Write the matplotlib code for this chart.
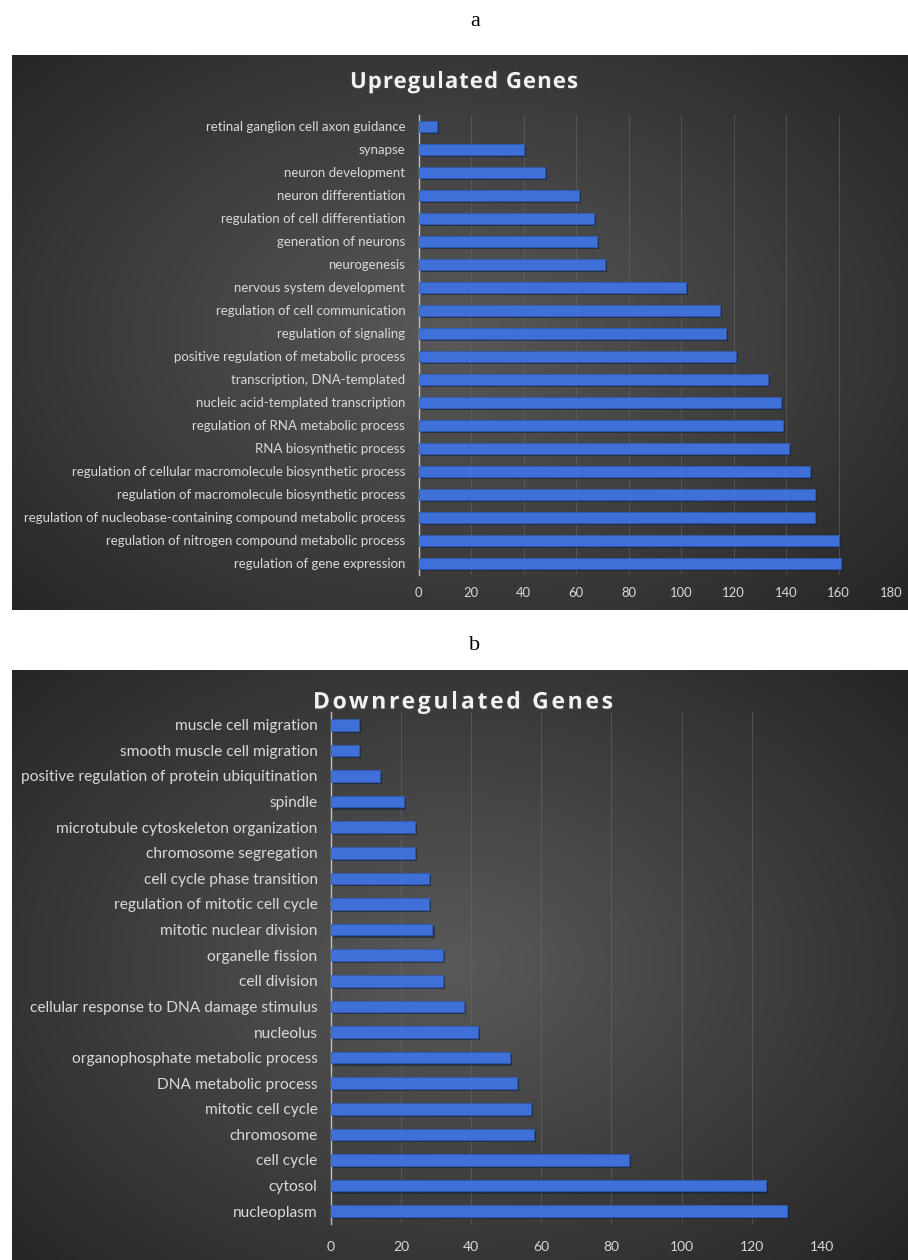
import numpy as np
import matplotlib.pyplot as plt
import matplotlib.patheffects as pe
from matplotlib.font_manager import FontProperties

# ---------------- Data ----------------

up_terms = [
    "retinal ganglion cell axon guidance",
    "synapse",
    "neuron development",
    "neuron differentiation",
    "regulation of cell differentiation",
    "generation of neurons",
    "neurogenesis",
    "nervous system development",
    "regulation of cell communication",
    "regulation of signaling",
    "positive regulation of metabolic process",
    "transcription, DNA-templated",
    "nucleic acid-templated transcription",
    "regulation of RNA metabolic process",
    "RNA biosynthetic process",
    "regulation of cellular macromolecule biosynthetic process",
    "regulation of macromolecule biosynthetic process",
    "regulation of nucleobase-containing compound metabolic process",
    "regulation of nitrogen compound metabolic process",
    "regulation of gene expression",
]
up_counts = [7, 40, 48, 61, 67, 68, 71, 102, 115, 117, 121, 133, 138, 139, 141,
             149, 151, 151, 160, 161]

down_terms = [
    "muscle cell migration",
    "smooth muscle cell migration",
    "positive regulation of protein ubiquitination",
    "spindle",
    "microtubule cytoskeleton organization",
    "chromosome segregation",
    "cell cycle phase transition",
    "regulation of mitotic cell cycle",
    "mitotic nuclear division",
    "organelle fission",
    "cell division",
    "cellular response to DNA damage stimulus",
    "nucleolus",
    "organophosphate metabolic process",
    "DNA metabolic process",
    "mitotic cell cycle",
    "chromosome",
    "cell cycle",
    "cytosol",
    "nucleoplasm",
]
down_counts = [8, 8, 14, 21, 24, 24, 28, 28, 29, 32, 32, 38, 42, 51, 53, 57, 58,
               85, 124, 130]

W, H = 908, 1260


def frac(x0, y0, x1, y1):
    # pixel box (top-left origin) -> figure fraction rect
    return [x0 / W, 1 - y1 / H, (x1 - x0) / W, (y1 - y0) / H]


def spaced_title(fig, cx, base_y, s, width_px, size):
    # draw the title letter by letter so it can be tracked out like the original
    fp = FontProperties(family='Open Sans', weight='bold', size=size)
    rend = fig.canvas.get_renderer()

    def w(txt):
        return rend.get_text_width_height_descent(txt, fp, ismath=False)[0]

    natural = w(s)
    gap = (width_px - natural) / (len(s) - 1)
    x0 = cx - width_px / 2
    for i, ch in enumerate(s):
        if ch == ' ':
            continue
        xs = w(s[:i + 1]) - w(ch) + i * gap
        fig.text((x0 + xs) / W, 1 - base_y / H, ch, ha='left', va='baseline',
                 color='#f2f2f2', fontproperties=fp, zorder=5,
                 path_effects=[pe.withSimplePatchShadow(offset=(1, -1),
                                                        alpha=0.5)])


def background(fig, rect):
    bg = fig.add_axes(rect, zorder=0)
    nx, ny = 400, 260
    xx, yy = np.meshgrid(np.linspace(-1, 1, nx), np.linspace(-1, 1, ny))
    r = np.sqrt(((xx + 0.02) / 1.0) ** 2 + (yy / 1.1) ** 2)
    shade = 0.35 - 0.21 * np.clip(r, 0, 1.4) / 1.4
    img = np.dstack([shade, shade, shade])
    bg.imshow(img, aspect='auto', extent=[0, 1, 0, 1], interpolation='bilinear')
    bg.set_axis_off()
    return bg


def panel(fig, bg_rect, ax_rect, terms, counts, xmax, label_size, tick_size,
          xpad):
    background(fig, bg_rect)
    ax = fig.add_axes(ax_rect, zorder=2)
    ax.set_facecolor('none')
    y = np.arange(len(terms))[::-1]
    bars = ax.barh(y, counts, height=0.46, color='#3f70d8',
                   edgecolor='#2c5bb8', linewidth=0.5, zorder=3)
    for b in bars:
        b.set_path_effects([pe.SimplePatchShadow(offset=(1.5, -1.5), alpha=0.6),
                            pe.Normal()])
    ax.set_yticks(y)
    ax.set_yticklabels(terms)
    ax.set_ylim(-0.5, len(terms) - 0.5)
    ax.set_xlim(0, xmax)
    ax.set_xticks(np.arange(0, xmax + 1, 20))
    ax.grid(axis='x', color='#6a6a6a', linewidth=0.7, alpha=0.55, zorder=1)
    ax.set_axisbelow(True)
    for s in ['top', 'right', 'bottom']:
        ax.spines[s].set_visible(False)
    ax.spines['left'].set_color('#bfbfbf')
    ax.spines['left'].set_linewidth(1.0)
    ax.tick_params(axis='both', length=0, colors='#d9d9d9')
    ax.tick_params(axis='y', pad=9.5, labelsize=label_size)
    ax.tick_params(axis='x', pad=xpad, labelsize=tick_size)
    for t in ax.get_yticklabels() + ax.get_xticklabels():
        t.set_family('Lato')
    return ax


fig = plt.figure(figsize=(W / 100, H / 100), dpi=100)

fig.text(475 / W, 1 - 22 / H, 'a', ha='center', va='center', fontsize=16,
         family='Liberation Serif', color='black')
panel(fig, frac(12, 55, 908, 610), frac(418.5, 115, 891, 575),
      up_terms, up_counts, 180, 9.5, 9.4, 9)
spaced_title(fig, 464, 88, 'Upregulated Genes', 228, 16)

fig.text(475 / W, 1 - 645 / H, 'b', ha='center', va='center', fontsize=16,
         family='Liberation Serif', color='black')
panel(fig, frac(12, 670, 908, 1260), frac(330.7, 712, 822, 1224),
      down_terms, down_counts, 140, 11.2, 10, 12)
spaced_title(fig, 463, 708.5, 'Downregulated Genes', 300, 16.5)

plt.savefig('out.png', dpi=100)
